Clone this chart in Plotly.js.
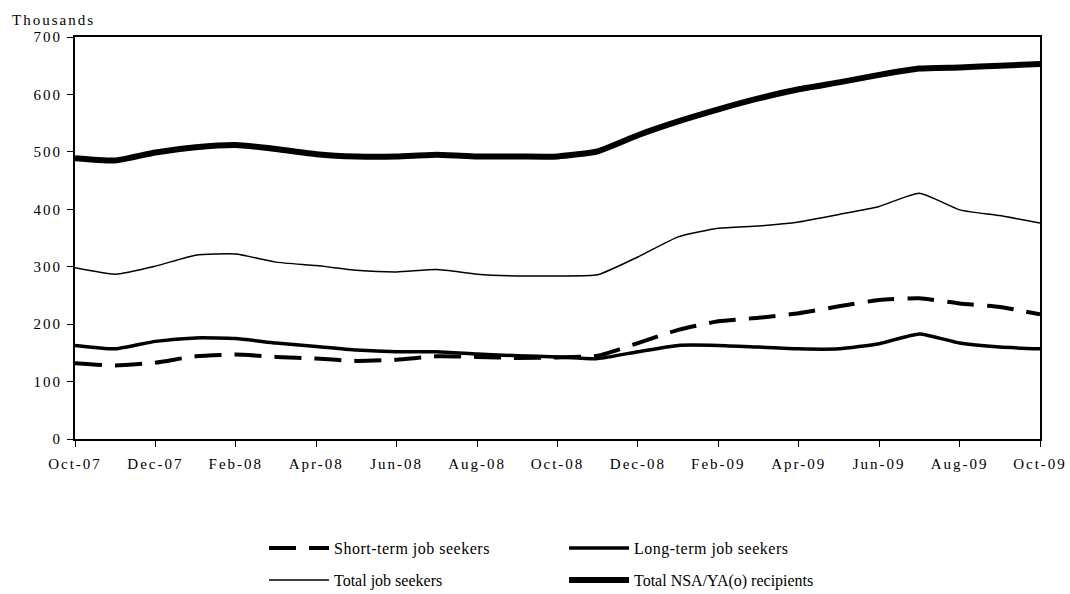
<!DOCTYPE html>
<html>
<head>
<meta charset="utf-8">
<script src="https://cdn.plot.ly/plotly-3.0.1.min.js"></script>
<style>
  html, body { margin: 0; padding: 0; background: #fff; }
  #chart { width: 1070px; height: 594px; }
  .xtick text, .ytick text { letter-spacing: 2px; }
  .annotation-text { letter-spacing: 2px; }
  .legendtext { letter-spacing: 0.5px; }
</style>
</head>
<body>
<div id="chart"></div>
<script>
const months = ['Oct-07','Nov-07','Dec-07','Jan-08','Feb-08','Mar-08','Apr-08','May-08','Jun-08','Jul-08','Aug-08','Sep-08','Oct-08','Nov-08','Dec-08','Jan-09','Feb-09','Mar-09','Apr-09','May-09','Jun-09','Jul-09','Aug-09','Sep-09','Oct-09'];
const shortTerm = [132,128,133,144,147,143,140,136,138,144,143,141,142,145,167,190,205,211,219,231,242,245,236,230,217];
const longTerm = [163,157,170,176,175,167,161,155,152,152,148,145,143,140,152,163,163,160,157,157,166,183,167,160,157];
const totalSeekers = [298,287,301,320,322,308,302,294,291,295,287,284,284,286,317,352,367,371,378,391,405,428,399,389,376];
const totalNSA = [489,485,499,508,512,505,496,492,492,495,492,492,492,501,529,553,574,593,609,621,634,645,647,650,653];
const tickLabels = ['Oct-07','Dec-07','Feb-08','Apr-08','Jun-08','Aug-08','Oct-08','Dec-08','Feb-09','Apr-09','Jun-09','Aug-09','Oct-09'];

const serif = '"Liberation Serif", "Times New Roman", serif';
const sm = 0.5;

const traces = [
  {x: months, y: shortTerm, name: 'Short-term job seekers', type: 'scatter', mode: 'lines',
   line: {color: '#000', width: 4, dash: '27px,13px', shape: 'spline', smoothing: sm}, legend: 'legend'},
  {x: months, y: longTerm, name: 'Long-term job seekers', type: 'scatter', mode: 'lines',
   line: {color: '#000', width: 3.5, shape: 'spline', smoothing: sm}, legend: 'legend'},
  {x: months, y: totalSeekers, name: 'Total job seekers', type: 'scatter', mode: 'lines',
   line: {color: '#000', width: 1.5, shape: 'spline', smoothing: sm}, legend: 'legend2'},
  {x: months, y: totalNSA, name: 'Total NSA/YA(o) recipients', type: 'scatter', mode: 'lines',
   line: {color: '#000', width: 6, shape: 'spline', smoothing: sm}, legend: 'legend2'}
];

const legendCommon = {
  orientation: 'h', xanchor: 'left', yanchor: 'middle',
  font: {family: serif, size: 16, color: '#000'},
  bgcolor: 'rgba(0,0,0,0)', itemwidth: 60,
  entrywidth: 225, entrywidthmode: 'pixels',
  traceorder: 'normal', itemclick: false
};

const layout = {
  width: 1070, height: 594,
  margin: {l: 75, r: 30, t: 37, b: 155, autoexpand: false},
  paper_bgcolor: '#fff', plot_bgcolor: '#fff',
  font: {family: serif, size: 15, color: '#000'},
  showlegend: true,
  legend: Object.assign({}, legendCommon, {x: (264 - 75) / 965, y: -(548 - 439) / 402}),
  legend2: Object.assign({}, legendCommon, {x: (264 - 75) / 965, y: -(580 - 439) / 402}),
  xaxis: {
    type: 'category', categoryorder: 'array', categoryarray: months,
    range: [0, 24], tickmode: 'array', tickvals: tickLabels, ticktext: tickLabels,
    showgrid: false, zeroline: false,
    showline: true, linecolor: '#000', linewidth: 2, mirror: true,
    ticks: 'outside', ticklen: 6, tickwidth: 1, tickcolor: '#000',
    ticklabelstandoff: 4,
    tickfont: {family: serif, size: 15, color: '#000'}
  },
  yaxis: {
    range: [0, 700], tickvals: [0,100,200,300,400,500,600,700],
    showgrid: false, zeroline: false,
    showline: true, linecolor: '#000', linewidth: 2, mirror: true,
    ticks: 'outside', ticklen: 6, tickwidth: 1, tickcolor: '#000',
    ticklabelstandoff: 2,
    tickfont: {family: serif, size: 15, color: '#000'}
  },
  annotations: [{
    text: 'Thousands', xref: 'paper', yref: 'paper',
    x: (10 - 75) / 965, y: (439 - 20) / 402, xanchor: 'left', yanchor: 'middle',
    showarrow: false, font: {family: serif, size: 15, color: '#000'}
  }]
};

Plotly.newPlot('chart', traces, layout, {displayModeBar: false, staticPlot: true});
</script>
</body>
</html>
